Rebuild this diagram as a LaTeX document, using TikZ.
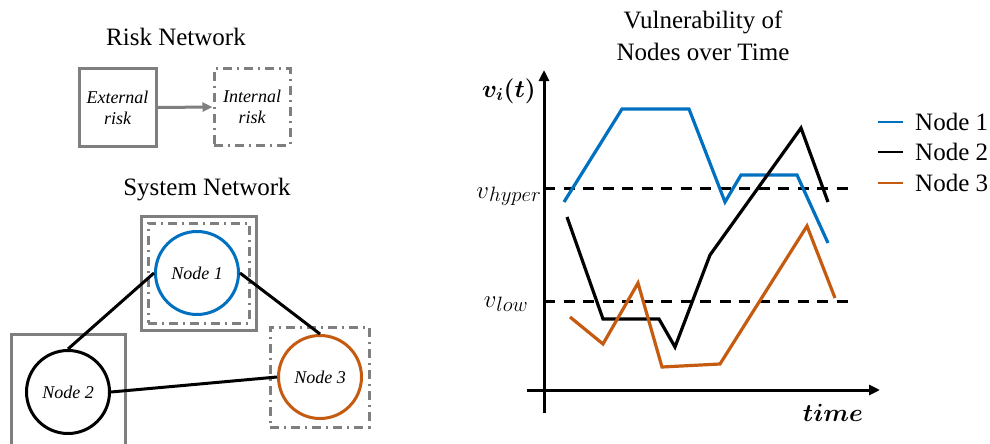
\documentclass[tikz,border=0pt]{standalone}
\usepackage{fontspec}
\setmainfont{Liberation Serif}
\usepackage{amsmath}
\usepackage{bm}
\usetikzlibrary{arrows.meta}
\definecolor{nblue}{HTML}{0070C0}
\definecolor{norange}{HTML}{C55A11}
\definecolor{boxgray}{HTML}{7F7F7F}
% italic subscript set at its own size, for the threshold labels
\newcommand{\levelsub}[1]{{\fontsize{21}{21}\selectfont$#1$}}
\begin{document}
\begin{tikzpicture}[x=1pt,y=-1pt,
  title/.style={font=\fontsize{25}{32}\selectfont, align=center},
  solidbox/.style={draw=boxgray, line width=3pt, rectangle, inner sep=0pt},
  dashbox/.style={draw=boxgray, line width=3pt, rectangle, inner sep=0pt,
    dash pattern=on 9pt off 5pt on 2pt off 5pt},
  boxtext/.style={font=\fontsize{18}{21}\selectfont\itshape, align=center},
  netnode/.style={circle, line width=3pt, minimum size=83pt, inner sep=0pt,
    font=\fontsize{18}{21}\selectfont\itshape},
  link/.style={line width=3pt, black},
  axis/.style={line width=3pt, -{Triangle[length=11pt,width=10pt]}},
  level/.style={line width=3pt, dash pattern=on 11pt off 8.5pt},
  curve/.style={line width=3.2pt, line join=miter},
  legline/.style={line width=2.5pt},
  mathlbl/.style={font=\fontsize{27}{30}\selectfont, inner sep=0pt},
  legtext/.style={font=\fontsize{25}{30}\selectfont, anchor=west, inner sep=0pt}]
\clip (0,0) rectangle (990,444);

% ---------------- Risk network ----------------
\node[title] (risktitle) at (176,37) {Risk Network};
\node[solidbox, minimum width=77pt, minimum height=77pt] (ext) at (117.5,107.5) {};
\node[boxtext] (exttext) at (ext.center) {External\\risk};
\node[dashbox, minimum width=76pt, minimum height=76pt] (int) at (252,107) {};
\node[boxtext] (inttext) at (int.center) {Internal\\risk};
\draw[boxgray, line width=3pt, -{Triangle[length=10pt,width=9pt]}] (ext.east) -- (int.west);

% ---------------- System network ----------------
\node[title] (systitle) at (207,190) {System Network};
\node[solidbox, minimum width=115pt, minimum height=114pt] (box1) at (198.5,273) {};
\node[dashbox, minimum width=101pt, minimum height=100pt] (dbox1) at (198.5,273) {};
\node[solidbox, minimum width=114pt, minimum height=140pt, anchor=north west] (box2) at (10,333) {};
\node[dashbox, minimum width=99pt, minimum height=100pt] (dbox3) at (319.5,377) {};

\node[netnode, draw=nblue, fill=white] (n1) at (197,273) {Node 1};
\node[netnode, draw=black, fill=white] (n2) at (68,392) {Node 2};
\node[netnode, draw=norange, fill=white] (n3) at (320,377) {Node 3};

\draw[link] (n1.west) -- (n2.north);
\draw[link] (n1.east) -- (n3.north);
\draw[link] (n2.east) -- (n3.west);

% ---------------- Vulnerability chart ----------------
\node[title] (charttitle) at (703,36) {Vulnerability of\\Nodes over Time};

\coordinate (ybot) at (544,413);
\coordinate (ytop) at (544,70);
\coordinate (xleft) at (527,390);
\coordinate (xright) at (880,390);
\draw[axis] (ybot) -- (ytop);
\draw[axis] (xleft) -- (xright);

\coordinate (hypL) at (544,188);
\coordinate (hypR) at (855,188);
\coordinate (lowL) at (544,301);
\coordinate (lowR) at (853,301);
\draw[level] (hypL) -- (hypR);
\draw[level] (lowL) -- (lowR);

\node[mathlbl, anchor=base east] (vi) at (536,97) {$\bm{v_i(t)}$};
\node[mathlbl, anchor=base east] (vhyp) at (541,198)
  {$v$\raisebox{-3pt}{\levelsub{hyper}}};
\node[mathlbl, anchor=base east] (vlow) at (528,307)
  {$v$\raisebox{-4pt}{\levelsub{low}}};
\node[mathlbl, anchor=base east] (tlab) at (863,421) {$\bm{time}$};

% node vulnerability curves
\draw[curve, nblue] (564,202) -- (622,109) -- (689,109) -- (725,202) -- (741,175)
  -- (797,175) -- (828,243);
\draw[curve, black] (567,217) -- (603,319) -- (659,319) -- (675,347) -- (710,255)
  -- (801,128) -- (828,202);
\draw[curve, norange] (570,317) -- (603,344) -- (638,283) -- (662,367) -- (720,364)
  -- (807,226) -- (835,298);

% legend
\coordinate (l1a) at (878,122); \coordinate (l1b) at (903,122);
\coordinate (l2a) at (878,152); \coordinate (l2b) at (903,152);
\coordinate (l3a) at (878,183); \coordinate (l3b) at (903,183);
\draw[legline, nblue] (l1a) -- (l1b);
\draw[legline, black] (l2a) -- (l2b);
\draw[legline, norange] (l3a) -- (l3b);
\node[legtext] (lg1) at (915,122) {Node 1};
\node[legtext] (lg2) at (915,152) {Node 2};
\node[legtext] (lg3) at (915,183) {Node 3};
\end{tikzpicture}
\end{document}
